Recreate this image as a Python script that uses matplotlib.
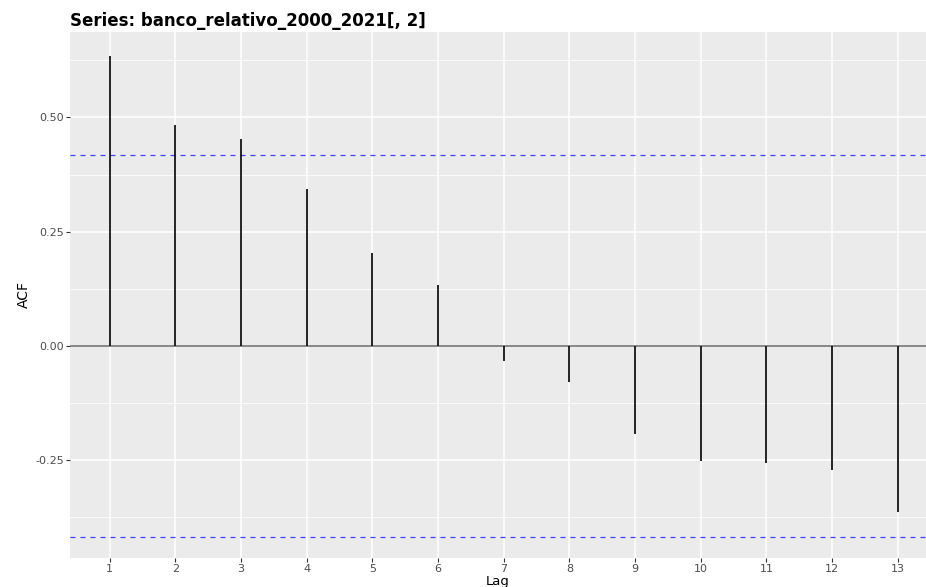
import numpy as np
import matplotlib
matplotlib.use("Agg")
import matplotlib.pyplot as plt
from matplotlib.ticker import FixedLocator

lags = [1, 2, 3, 4, 5, 6, 7, 8, 9, 10, 11, 12, 13]
acf_values = [0.634, 0.483, 0.452, 0.343, 0.204, 0.133, -0.033, -0.079,
              -0.193, -0.252, -0.256, -0.272, -0.363]
n_obs = 22
ci = 1.96 / np.sqrt(n_obs)
title = "Series: banco_relativo_2000_2021[, 2]"
ytick_vals = [-0.25, 0.0, 0.25, 0.5]
ytick_labels = ["-0.25", "0.00", "0.25", "0.50"]

plt.rcParams['font.family'] = ['DejaVu Sans']

W, H = 926, 587
fig = plt.figure(figsize=(W/100, H/100), dpi=100)
ax = fig.add_axes([70/W, (H-557.7)/H, 1 - 70/W, (557.7-32)/H])
ax.set_facecolor("#EBEBEB")

ax.set_xlim(0.395, 13.43)
ax.set_ylim(-0.464, 0.687)

# grid
ax.xaxis.set_major_locator(FixedLocator(lags))
ax.yaxis.set_major_locator(FixedLocator(ytick_vals))
ax.yaxis.set_minor_locator(FixedLocator([-0.375, -0.125, 0.125, 0.375, 0.625]))
ax.grid(which='major', color='white', linewidth=1.1)
ax.grid(which='minor', axis='y', color='white', linewidth=0.55)
ax.set_axisbelow(True)

# zero line
ax.axhline(0, color='#7f7f7f', linewidth=1.3, zorder=2)
# stems
ax.vlines(lags, 0, acf_values, color='black', linewidth=1.2, zorder=3)
# confidence bounds
ax.axhline(ci, color='#4040ff', linewidth=0.9, linestyle=(0, (4, 4)), zorder=2)
ax.axhline(-ci, color='#4040ff', linewidth=0.9, linestyle=(0, (4, 4)), zorder=2)

for s in ax.spines.values():
    s.set_visible(False)

ax.set_yticklabels(ytick_labels)
ax.set_xticklabels([str(l) for l in lags])
ax.tick_params(axis='both', which='major', length=3, width=0.8, color='#333333',
               labelcolor='#4d4d4d', labelsize=8, pad=1.5)
ax.tick_params(axis='both', which='minor', length=0)

fig.text((70 + W) / 2 / W, (H - 584.5) / H, "Lag", fontsize=9.5, color='black',
         ha='center', va='baseline')
ax.set_ylabel("ACF", fontsize=10, color='black', labelpad=3)
ax.set_title(title, loc='left', fontsize=12, fontweight='bold', color='black', pad=4)

fig.savefig("out.png", dpi=100)
